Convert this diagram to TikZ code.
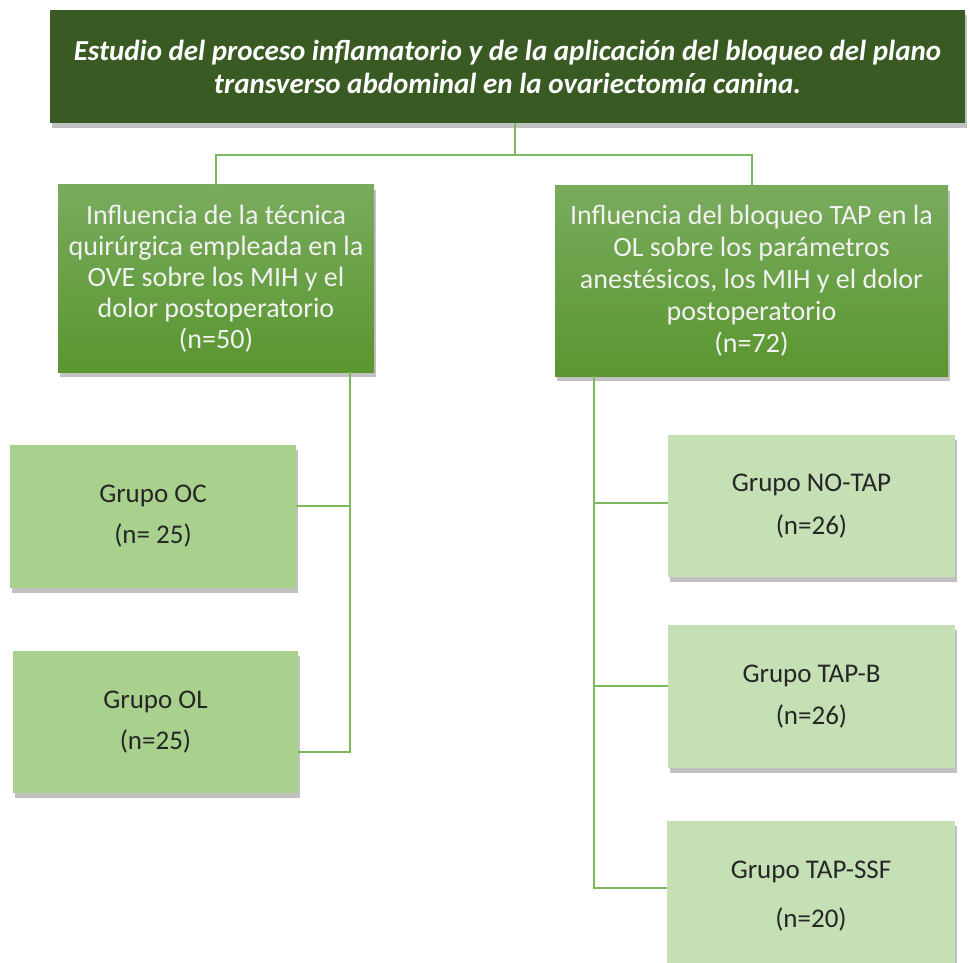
\documentclass[tikz,border=0pt]{standalone}
\usepackage{fontspec}
\setmainfont{Carlito}
\usetikzlibrary{shadows}
\definecolor{titlegreen}{HTML}{3A5A24}
\definecolor{midtop}{HTML}{79AB5D}
\definecolor{midbot}{HTML}{5A9630}
\definecolor{leftgrp}{HTML}{A9D18E}
\definecolor{rightgrp}{HTML}{C5E0B4}
\definecolor{linegreen}{HTML}{7DB85E}
\definecolor{txtdark}{HTML}{262626}
\tikzset{
  shad/.style={drop shadow={shadow xshift=2pt,shadow yshift=-5pt,opacity=0.35,fill=black!70}},
  titlebox/.style={rectangle,fill=titlegreen,shad,text=white,align=center,inner sep=0pt,
    font=\fontsize{29}{33}\selectfont\bfseries\itshape},
  midbox/.style={rectangle,top color=midtop,bottom color=midbot,shad,text=white!95!black,align=center,inner sep=0pt,
    font=\fontsize{28}{31}\selectfont},
  grpL/.style={rectangle,fill=leftgrp,shad,text=txtdark,align=center,inner sep=0pt,minimum width=286pt,minimum height=143pt},
  grpR/.style={rectangle,fill=rightgrp,shad,text=txtdark,align=center,inner sep=0pt,minimum width=287pt,minimum height=143pt},
  conn/.style={draw=linegreen,line width=2pt},
}
\begin{document}
\begin{tikzpicture}[x=1pt,y=-1pt]
\useasboundingbox (0,0) rectangle (970,963);
\node[titlebox,minimum width=915pt,minimum height=113pt] (title) at (507.5,66.5)
  {Estudio del proceso inflamatorio y de la aplicación del bloqueo del plano\\transverso abdominal en la ovariectomía canina.};
\node[midbox,minimum width=316pt,minimum height=187pt] (L1) at (216,278.5)
  {Influencia de la técnica\\quirúrgica empleada en la\\OVE sobre los MIH y el\\dolor postoperatorio\\(n=50)};
\node[midbox,minimum width=393pt,minimum height=190pt,font=\fontsize{28}{32}\selectfont] (R1) at (751.5,281)
  {Influencia del bloqueo TAP en la\\OL sobre los parámetros\\anestésicos, los MIH y el dolor\\postoperatorio\\(n=72)};
\node[grpL,font=\fontsize{27}{41}\selectfont] (OC) at (153,516.5) {Grupo OC\\(n= 25)};
\node[grpL,minimum width=285pt,minimum height=142pt,font=\fontsize{27}{41}\selectfont] (OL) at (155.5,722) {Grupo OL\\(n=25)};
\node[grpR,minimum height=142pt,font=\fontsize{27}{43}\selectfont] (NT) at (811.5,506) {Grupo NO-TAP\\(n=26)};
\node[grpR,font=\fontsize{27}{42}\selectfont] (TB) at (811.5,696.5) {Grupo TAP-B\\(n=26)};
\node[grpR,minimum width=288pt,minimum height=150pt,font=\fontsize{27}{49}\selectfont,yshift=-2pt] (TS) at (811,894) {Grupo TAP-SSF\\(n=20)};
% connectors
\coordinate (j) at (515,155);
\coordinate (lb) at (350,0);
\coordinate (rb) at (594,0);
\draw[conn] (title.south -| j) -- (j) -| (L1.north);
\draw[conn] (j) -| (R1.north);
\draw[conn] (L1.south -| lb) |- ([yshift=-30pt]OL.east);
\draw[conn] ([yshift=10.5pt]OC.east -| lb) -- ([yshift=10.5pt]OC.east);
\draw[conn] (R1.south -| rb) |- ([yshift=8pt]TS.west);
\draw[conn] ([yshift=3pt]NT.west -| rb) -- ([yshift=3pt]NT.west);
\draw[conn] ([yshift=10.5pt]TB.west -| rb) -- ([yshift=10.5pt]TB.west);
\end{tikzpicture}
\end{document}
